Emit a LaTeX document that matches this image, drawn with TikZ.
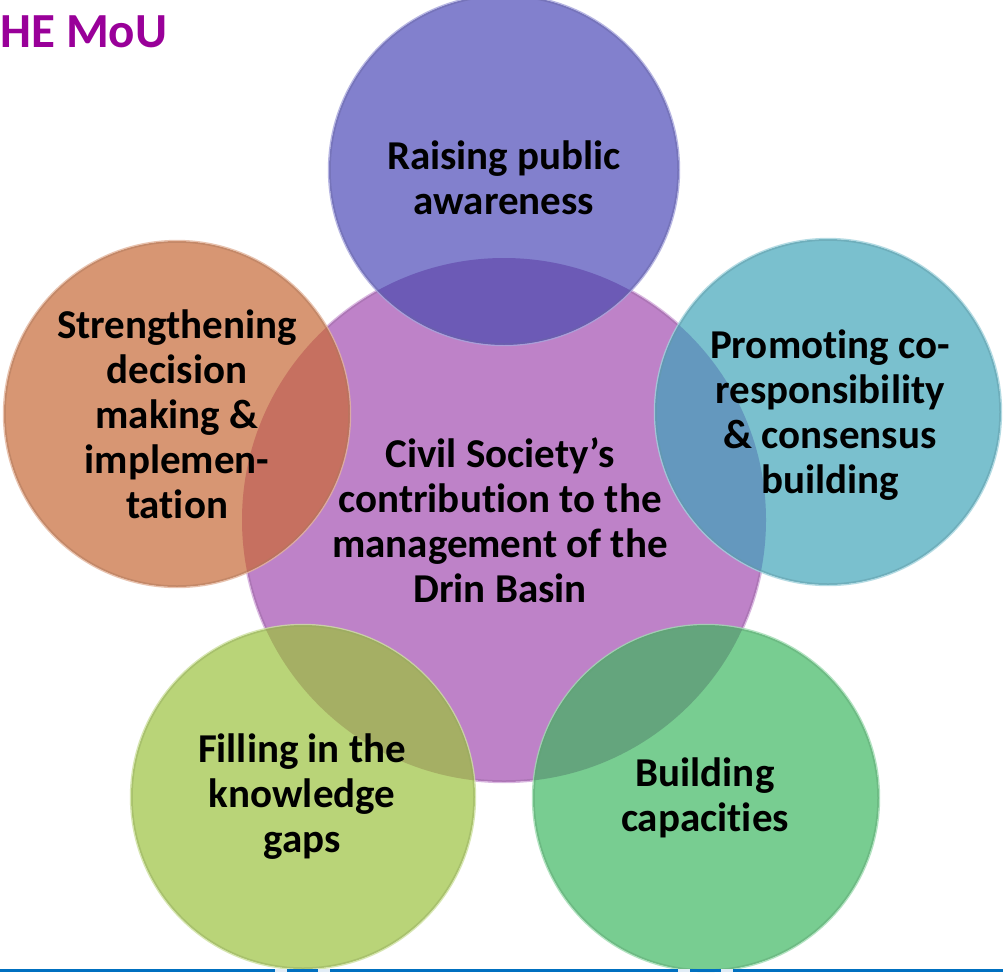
\documentclass[tikz,border=0pt]{standalone}
\usepackage{fontspec}
\setmainfont{Carlito}[Ligatures=NoCommon, RawFeature={-liga;-calt;-clig}]
\definecolor{purpleC}{RGB}{190,130,200}
\definecolor{topC}{RGB}{130,128,205}
\definecolor{topOv}{RGB}{108,90,182}
\definecolor{orangeC}{RGB}{215,150,115}
\definecolor{orangeOv}{RGB}{198,112,96}
\definecolor{cyanC}{RGB}{122,192,206}
\definecolor{cyanOv}{RGB}{100,152,190}
\definecolor{ygC}{RGB}{185,212,120}
\definecolor{ygOv}{RGB}{165,175,100}
\definecolor{greenC}{RGB}{120,205,145}
\definecolor{greenOv}{RGB}{100,165,125}
\definecolor{titleC}{RGB}{153,0,153}
\definecolor{lineBlue}{RGB}{0,112,192}
\definecolor{tabC}{RGB}{225,236,246}
\begin{document}
\begin{tikzpicture}[x=1pt,y=-1pt,
  bubble/.style={circle, inner sep=0pt, minimum size=#1},
  glow/.style={draw=#1!70!white, line width=1.2pt, draw opacity=0.8},
  rim/.style={draw=#1!80!black, line width=1.5pt, draw opacity=0.45},
  lbl/.style={font=\fontsize{41}{45}\selectfont\bfseries, align=center, text=black, inner sep=0pt}]
\useasboundingbox (0,0) rectangle (1003,972);
\fill[white] (0,0) rectangle (1003,972);
% centre circle
\node[bubble=524pt, fill=purpleC] (cCenter) at (504,520) {};
\draw[glow=purpleC] (cCenter.center) circle[radius=262.6pt];
\draw[rim=purpleC] (cCenter.center) circle[radius=261pt];
% outer circles
\node[bubble=350pt, fill=topC] (cTop) at (504,170) {};
\node[bubble=346pt, fill=orangeC] (cLeft) at (177,414) {};
\node[bubble=346pt, fill=cyanC] (cRight) at (828,412) {};
\node[bubble=344pt, fill=ygC] (cBL) at (303,797) {};
\node[bubble=346pt, fill=greenC] (cBR) at (706,798) {};
% overlaps with the centre circle
\begin{scope}
  \clip (cCenter.center) circle[radius=262pt];
  \fill[topOv] (cTop.center) circle[radius=175pt];
  \fill[orangeOv] (cLeft.center) circle[radius=173pt];
  \fill[cyanOv] (cRight.center) circle[radius=173pt];
  \fill[ygOv] (cBL.center) circle[radius=172pt];
  \fill[greenOv] (cBR.center) circle[radius=173pt];
\end{scope}
% edges
\draw[glow=topC] (cTop.center) circle[radius=175.6pt];
\draw[glow=orangeC] (cLeft.center) circle[radius=173.6pt];
\draw[glow=cyanC] (cRight.center) circle[radius=173.6pt];
\draw[glow=ygC] (cBL.center) circle[radius=172.6pt];
\draw[glow=greenC] (cBR.center) circle[radius=173.6pt];
\draw[rim=topC] (cTop.center) circle[radius=174pt];
\draw[rim=orangeC] (cLeft.center) circle[radius=172pt];
\draw[rim=cyanC] (cRight.center) circle[radius=172pt];
\draw[rim=ygC] (cBL.center) circle[radius=171pt];
\draw[rim=greenC] (cBR.center) circle[radius=172pt];
% texts
\node[lbl] (tTop) at (504,178) {Raising public\\awareness};
\node[lbl] (tLeft) at (177,414) {Strengthening\\decision\\making \&\\implemen-\\tation};
\node[lbl] (tRight) at (830,415) {Promoting co-\\responsibility\\\& consensus\\building};
\node[lbl] (tCenter) at (500,520) {Civil Society’s\\contribution to the\\management of the\\Drin Basin};
\node[lbl] (tBL) at (302,797) {Filling in the\\knowledge\\gaps};
\node[lbl] (tBR) at (705,798) {Building\\capacities};
% title
\node[anchor=base west, inner sep=0pt, font=\fontsize{49}{55}\selectfont\bfseries, text=titleC] (title) at (0,47) {HE MoU};
% bottom rule
\fill[lineBlue] (0,969) rectangle (1003,972);
\fill[tabC] (275,969) rectangle (287,972);
\fill[tabC] (318,969) rectangle (330,972);
\fill[tabC] (678,969) rectangle (690,972);
\fill[tabC] (721,969) rectangle (733,972);
\end{tikzpicture}
\end{document}
